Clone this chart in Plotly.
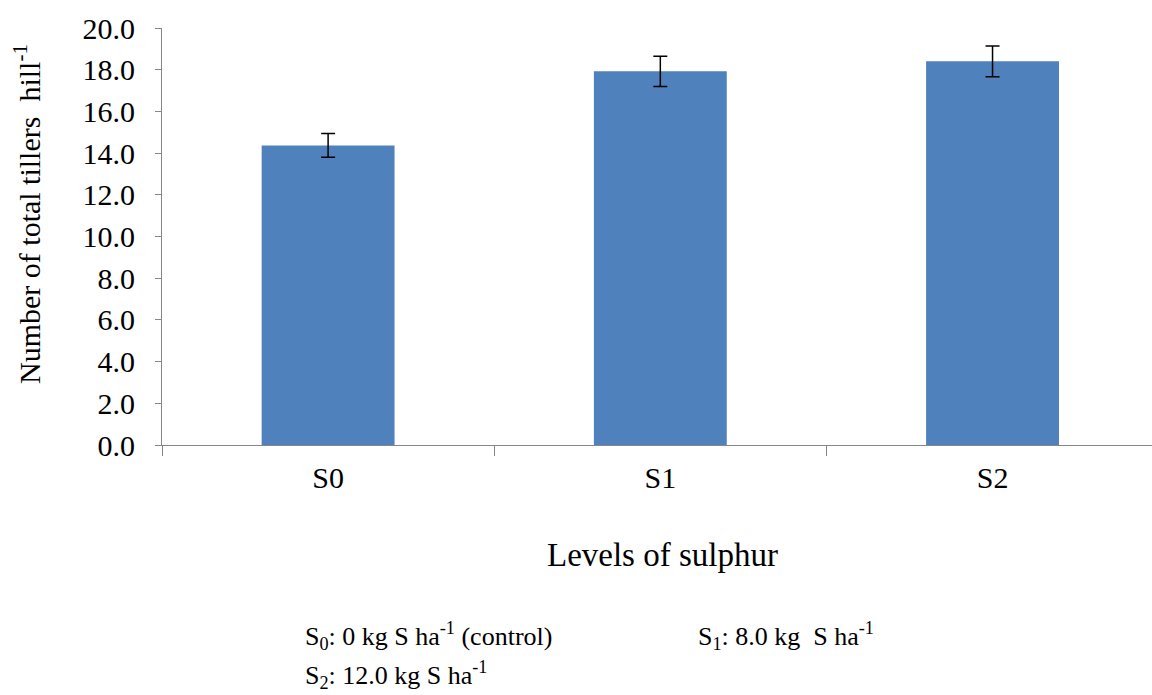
import plotly.graph_objects as go

categories = ["S0", "S1", "S2"]
tillers = [14.37, 17.92, 18.40]
errors = [0.57, 0.72, 0.74]
y_ticks = [0, 2, 4, 6, 8, 10, 12, 14, 16, 18, 20]

FONT = "'Liberation Serif', 'Times New Roman', Times, serif"
L, T, PW, PH = 162, 28, 990, 417


def px(xp):
    return (xp - L) / PW


def py(yp):
    return (T + PH - yp) / PH


fig = go.Figure()
fig.add_trace(go.Bar(
    x=categories, y=tillers,
    marker=dict(color="#4F81BD", line=dict(width=0)),
    width=0.4,
    error_y=dict(type="data", array=errors, visible=True, color="#000000", thickness=1.5, width=7),
))

fig.update_layout(
    width=1152, height=695,
    margin=dict(l=L, r=0, t=T, b=695 - T - PH, autoexpand=False),
    paper_bgcolor="white", plot_bgcolor="white",
    showlegend=False,
    font=dict(family=FONT, color="#000000"),
    xaxis=dict(
        type="category", range=[-0.5, 2.48], automargin=False,
        showline=True, linecolor="#868686", linewidth=1,
        ticks="outside", tickson="boundaries", ticklen=10, tickcolor="#868686",
        tickfont=dict(size=30, family=FONT), showgrid=False, zeroline=False,
        ticklabelstandoff=6,
    ),
    yaxis=dict(
        range=[0, 20], tickvals=y_ticks, tickformat=".1f", automargin=False,
        showline=True, linecolor="#868686", linewidth=1,
        ticks="outside", ticklen=6, tickcolor="#868686",
        tickfont=dict(size=30, family=FONT), showgrid=False, zeroline=False,
        ticklabelstandoff=14,
    ),
)

fig.add_annotation(text="Number of total tillers\u00a0 hill<sup>-1</sup>", xref="paper", yref="paper",
                   x=px(27), y=py(214), textangle=-90, showarrow=False,
                   font=dict(size=30, family=FONT), xanchor="center", yanchor="middle")
fig.add_annotation(text="Levels of sulphur", xref="paper", yref="paper", x=px(662), y=py(555),
                   showarrow=False, font=dict(size=33, family=FONT), xanchor="center", yanchor="middle")
fig.add_annotation(text="S<sub>0</sub>: 0 kg S ha<sup>-1</sup> (control)", xref="paper", yref="paper",
                   x=px(303), y=py(636), showarrow=False,
                   font=dict(size=26, family=FONT), xanchor="left", yanchor="middle")
fig.add_annotation(text="S<sub>1</sub>: 8.0 kg\u00a0 S ha<sup>-1</sup>", xref="paper", yref="paper",
                   x=px(696), y=py(636), showarrow=False,
                   font=dict(size=26, family=FONT), xanchor="left", yanchor="middle")
fig.add_annotation(text="S<sub>2</sub>: 12.0 kg S ha<sup>-1</sup>", xref="paper", yref="paper",
                   x=px(303), y=py(675), showarrow=False,
                   font=dict(size=26, family=FONT), xanchor="left", yanchor="middle")

fig.write_html("out.html", config={"displayModeBar": False},
               post_script="document.body.style.margin='0';")
